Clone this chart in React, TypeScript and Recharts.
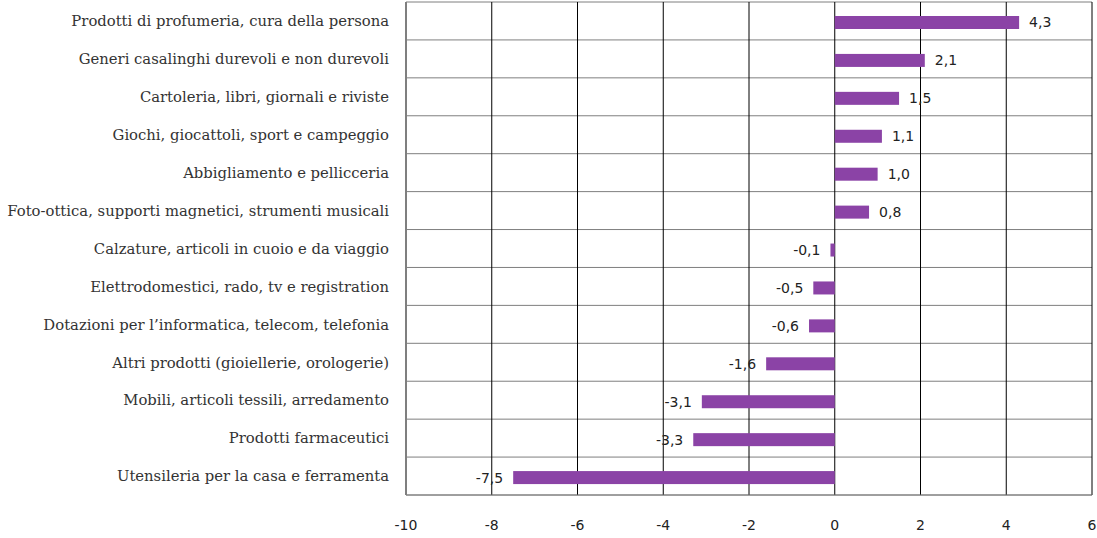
import React from 'react';
import {
  BarChart,
  Bar,
  XAxis,
  YAxis,
  CartesianGrid,
  LabelList,
} from 'recharts';

const categories = [
  'Prodotti di profumeria, cura della persona',
  'Generi casalinghi durevoli e non durevoli',
  'Cartoleria, libri, giornali e riviste',
  'Giochi, giocattoli, sport e campeggio',
  'Abbigliamento e pellicceria',
  'Foto-ottica, supporti magnetici, strumenti musicali',
  'Calzature, articoli in cuoio e da viaggio',
  'Elettrodomestici, rado, tv e registration',
  'Dotazioni per l\u2019informatica, telecom, telefonia',
  'Altri prodotti (gioiellerie, orologerie)',
  'Mobili, articoli tessili, arredamento',
  'Prodotti farmaceutici',
  'Utensileria per la casa e ferramenta',
];

const values = [4.3, 2.1, 1.5, 1.1, 1.0, 0.8, -0.1, -0.5, -0.6, -1.6, -3.1, -3.3, -7.5];

const xTicks = [-10, -8, -6, -4, -2, 0, 2, 4, 6];

const data = categories.map((name, i) => ({ name, value: values[i] }));

const fmt = (v: number) => v.toFixed(1).replace('.', ',');

// grid lines sit between the categories, not on them
const rowLines = ({ offset }: any) => {
  const out: number[] = [];
  for (let i = 0; i <= categories.length; i++) {
    out.push(offset.top + (i * offset.height) / categories.length);
  }
  return out;
};

// bars sit a little below the row centre in the original
const LowBar = (props: any) => {
  const { x, y, width, height, fill } = props;
  const w = Math.abs(width);
  const left = width < 0 ? x + width : x;
  return <rect x={left} y={y + 2} width={w} height={height} fill={fill} />;
};

export default function App() {
  return (
    <div style={{ position: 'absolute', left: 0, top: 0, background: '#fff' }}>
      <BarChart
        layout="vertical"
        width={1097}
        height={538}
        data={data}
        margin={{ top: 2, right: 5, left: 0, bottom: 0 }}
      >
        <CartesianGrid
          vertical={false}
          stroke="#7f7f7f"
          horizontalCoordinatesGenerator={rowLines}
        />
        <CartesianGrid horizontal={false} stroke="#000" />
        <XAxis
          type="number"
          domain={[-10, 6]}
          ticks={xTicks}
          height={43}
          tickLine={false}
          tickSize={0}
          tickMargin={25}
          axisLine={{ stroke: '#7f7f7f' }}
          tick={{ fill: '#222', fontSize: 14, fontFamily: 'DejaVu Sans' }}
        />
        <YAxis
          type="category"
          dataKey="name"
          width={406}
          interval={0}
          tickLine={false}
          tickSize={0}
          tickMargin={17}
          axisLine={{ stroke: '#7f7f7f', strokeWidth: 2 }}
          tick={{ fill: '#333', fontSize: 14.8, fontFamily: 'DejaVu Serif' }}
        />
        <Bar
          dataKey="value"
          fill="#8b43a6"
          barSize={13}
          shape={LowBar}
          isAnimationActive={false}
        >
          <LabelList
            dataKey="value"
            position="right"
            offset={10}
            dy={2}
            formatter={(v: any) => fmt(Number(v))}
            style={{ fill: '#222', fontSize: 14, fontFamily: 'DejaVu Sans' }}
          />
        </Bar>
      </BarChart>
    </div>
  );
}
